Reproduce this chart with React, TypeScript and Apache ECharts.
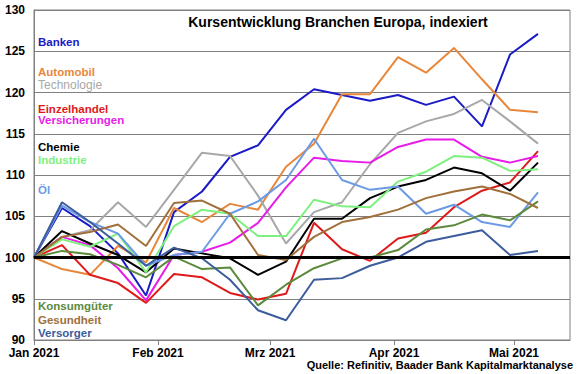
import React, { useEffect, useRef } from "react";
import * as echarts from "echarts";

const dates = [
  "2021-01-01", "2021-01-08", "2021-01-15", "2021-01-22", "2021-01-29",
  "2021-02-05", "2021-02-12", "2021-02-19", "2021-02-26",
  "2021-03-05", "2021-03-12", "2021-03-19", "2021-03-26",
  "2021-04-02", "2021-04-09", "2021-04-16", "2021-04-23", "2021-04-30",
  "2021-05-07",
];

const monthTicks = ["2021-01-01", "2021-02-01", "2021-03-01", "2021-04-01", "2021-05-01"];
const monthLabels = ["Jan 2021", "Feb 2021", "Mrz 2021", "Apr 2021", "Mai 2021"];
const axisEnd = "2021-05-15";

const banken = [100, 106.0, 103.8, 100.5, 95.4, 105.5, 108.0, 112.2, 113.6, 117.9, 120.4, 119.7, 119.0, 119.7, 118.5, 119.5, 115.9, 124.6, 127.1];
const automobil = [100, 98.6, 97.9, 101.4, 99.4, 106.0, 104.3, 106.5, 105.8, 111.0, 113.8, 119.8, 119.8, 124.3, 122.4, 125.4, 121.6, 117.9, 117.6];
const technologie = [100, 102.5, 103.3, 106.7, 103.7, 108.2, 112.7, 112.3, 107.5, 101.7, 105.5, 106.7, 111.3, 115.1, 116.5, 117.4, 119.1, 116.5, 113.8];
const einzelhandel = [100, 101.5, 97.9, 96.9, 94.5, 98.0, 97.6, 95.7, 94.9, 95.6, 104.2, 101.0, 99.6, 102.3, 103.0, 106.1, 108.1, 109.1, 112.9];
const versicherungen = [100, 102.5, 101.5, 98.7, 94.8, 100.3, 100.7, 101.8, 104.2, 108.5, 112.1, 111.7, 111.5, 113.4, 114.3, 114.3, 112.2, 111.5, 112.3];
const chemie = [100, 103.2, 101.7, 100.3, 98.2, 101.1, 100.5, 99.9, 97.9, 99.5, 104.7, 104.7, 107.2, 108.6, 109.4, 110.9, 110.2, 108.1, 111.5];
const industrie = [100, 102.2, 101.3, 102.9, 98.2, 103.8, 105.8, 105.3, 102.6, 102.6, 107.0, 106.2, 106.1, 109.2, 110.4, 112.3, 112.1, 110.5, 110.7];
const oel = [100, 106.3, 104.3, 102.9, 99.0, 100.3, 100.7, 105.3, 106.8, 109.4, 114.4, 109.4, 108.2, 108.6, 105.3, 106.4, 104.3, 103.7, 107.9];
const konsumgueter = [100, 100.8, 100.4, 99.1, 97.6, 100.1, 98.6, 98.8, 94.2, 96.7, 98.7, 99.9, 100.0, 100.9, 103.4, 103.9, 105.2, 104.5, 106.8];
const gesundheit = [100, 102.5, 103.1, 104.0, 101.4, 106.6, 106.9, 105.3, 100.3, 99.7, 102.5, 104.3, 104.9, 105.8, 107.2, 108.0, 108.6, 107.7, 106.0];
const versorger = [100, 106.7, 104.3, 101.7, 99.0, 101.2, 99.9, 97.3, 93.6, 92.4, 97.3, 97.5, 99.0, 100.0, 101.9, 102.6, 103.3, 100.3, 100.8];

const seriesNames = ["Banken", "Automobil", "Technologie", "Einzelhandel", "Versicherungen", "Chemie", "Industrie", "Öl", "Konsumgüter", "Gesundheit", "Versorger"];
const seriesValues = [banken, automobil, technologie, einzelhandel, versicherungen, chemie, industrie, oel, konsumgueter, gesundheit, versorger];
const seriesColors = ["#1a1ac6", "#e8873a", "#a8a8a8", "#e01a1a", "#e81ce8", "#000000", "#7ef07e", "#6c9ae4", "#5c8a3c", "#a0703c", "#3c5c9c"];

const legendY = [42, 72, 85, 108.5, 119.5, 147, 160, 190, 306, 319.5, 333];
const legendWeight = ["bold", "bold", "normal", "bold", "bold", "bold", "bold", "bold", "bold", "bold", "bold"];

const refLine = 100;
const title = "Kursentwicklung Branchen Europa, indexiert";
const source = "Quelle: Refinitiv, Baader Bank Kapitalmarktanalyse";

const FONT = '"Liberation Sans", Arial, sans-serif';

function dayOf(s: string): number {
  const [y, m, d] = s.split("-").map(Number);
  return (Date.UTC(y, m - 1, d) - Date.UTC(2021, 0, 1)) / 86400000;
}

export default function App() {
  const ref = useRef<HTMLDivElement>(null);
  useEffect(() => {
    if (!ref.current) return;
    const chart = echarts.init(ref.current, undefined, { renderer: "svg" });
    const tickDays = monthTicks.map(dayOf);
    const series: any[] = seriesNames.map((name, i) => ({
      name,
      type: "line",
      data: seriesValues[i].map((v, j) => [dayOf(dates[j]), v]),
      showSymbol: false,
      symbol: "none",
      lineStyle: { color: seriesColors[i], width: 2 },
      itemStyle: { color: seriesColors[i] },
      z: 2,
    }));
    series.push({
      name: "ref",
      type: "line",
      data: [],
      z: 5,
      markLine: {
        silent: true,
        symbol: "none",
        label: { show: false },
        lineStyle: { color: "#000", width: 3, type: "solid" },
        data: [{ yAxis: refLine }],
      },
    });
    const graphics: any[] = seriesNames.map((name, i) => ({
      type: "text",
      style: {
        text: name,
        x: 38,
        y: legendY[i],
        fill: seriesColors[i],
        font: `${legendWeight[i]} ${legendWeight[i] === "bold" ? 11.5 : 12}px ${FONT}`,
        textVerticalAlign: "middle",
        verticalAlign: "middle",
      },
      z: 10,
    }));
    graphics.push({
      type: "text",
      style: {
        text: title,
        x: 338,
        y: 22,
        fill: "#000",
        font: `bold 14px ${FONT}`,
        textAlign: "center",
        verticalAlign: "middle",
      },
      z: 10,
    });
    graphics.push({
      type: "text",
      style: {
        text: source,
        x: 573,
        y: 365,
        fill: "#000",
        font: `bold 11px ${FONT}`,
        textAlign: "right",
        verticalAlign: "middle",
      },
      z: 10,
    });
    chart.setOption({
      animation: false,
      backgroundColor: "#fff",
      grid: { left: 34, right: 10, top: 10, bottom: 34, show: true, borderColor: "#808080", borderWidth: 1, backgroundColor: "transparent" },
      xAxis: {
        type: "value",
        min: 0,
        max: dayOf(axisEnd),
        axisLine: { show: true, lineStyle: { color: "#808080", width: 1 } },
        splitLine: { show: false },
        axisTick: { show: true, customValues: tickDays, length: 5, lineStyle: { color: "#808080" } },
        axisLabel: {
          customValues: tickDays,
          formatter: (v: number) => {
            const k = tickDays.indexOf(v);
            return k >= 0 ? monthLabels[k] : "";
          },
          color: "#000",
          fontWeight: "bold",
          fontSize: 12,
          fontFamily: FONT,
          margin: 7,
        },
      },
      yAxis: {
        type: "value",
        min: 90,
        max: 130,
        interval: 5,
        axisLine: { show: true, lineStyle: { color: "#808080", width: 1 } },
        axisTick: { show: false },
        splitLine: { show: true, lineStyle: { color: "#808080", width: 1 } },
        axisLabel: { color: "#000", fontWeight: "bold", fontSize: 12, fontFamily: FONT, margin: 9 },
      },
      series,
      graphic: graphics,
    });
    return () => chart.dispose();
  }, []);
  return <div ref={ref} style={{ position: "fixed", left: 0, top: 0, width: 580, height: 374 }} />;
}
